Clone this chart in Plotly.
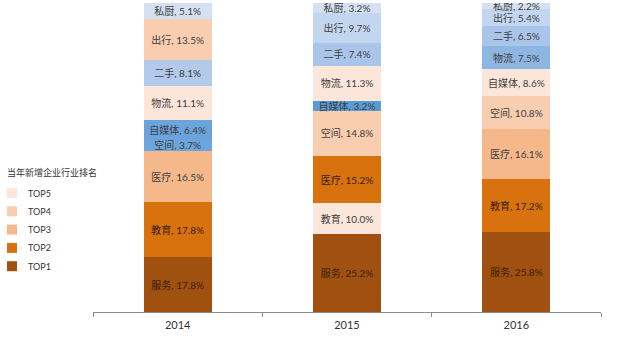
import plotly.graph_objects as go

years = ["2014", "2015", "2016"]

# bottom-to-top stacking order per year
cats_2014 = ["服务", "教育", "医疗", "空间", "自媒体", "物流", "二手", "出行", "私厨"]
vals_2014 = [17.8, 17.8, 16.5, 3.7, 6.4, 11.1, 8.1, 13.5, 5.1]

cats_2015 = ["服务", "教育", "医疗", "空间", "自媒体", "物流", "二手", "出行", "私厨"]
vals_2015 = [25.2, 10.0, 15.2, 14.8, 3.2, 11.3, 7.4, 9.7, 3.2]

cats_2016 = ["服务", "教育", "医疗", "空间", "自媒体", "物流", "二手", "出行", "私厨"]
vals_2016 = [25.8, 17.2, 16.1, 10.8, 8.6, 7.5, 6.5, 5.4, 2.2]

legend_title = "当年新增企业行业排名"
legend_names = ["TOP5", "TOP4", "TOP3", "TOP2", "TOP1"]

# styles
TOP = ["#A0510F", "#D8720F", "#F4B88B", "#F9CDB0", "#FCE6DA"]
colors_2014 = [TOP[0], TOP[1], TOP[2], "#6CA6DD", "#6AA4DC", TOP[4], "#B3CAEB", TOP[3], "#D5E1F2"]
colors_2015 = [TOP[0], TOP[4], TOP[1], TOP[3], "#5B9BD5", TOP[4], "#A9C5EA", "#C3D6EF", "#D5E1F2"]
colors_2016 = [TOP[0], TOP[1], TOP[2], TOP[3], TOP[4], "#8EB6E3", "#A9C5EA", "#C3D6EF", "#D5E1F2"]
legend_colors = [TOP[4], TOP[3], TOP[2], TOP[1], TOP[0]]

cats = [cats_2014, cats_2015, cats_2016]
vals = [vals_2014, vals_2015, vals_2016]
cols = [colors_2014, colors_2015, colors_2016]

DARK = {TOP[0], TOP[1]}
FONT = "Lato, 'Noto Sans CJK SC', sans-serif"

# plot-area geometry in pixels (for the hand-drawn legend)
L, R, T, B = 93, 601, 3, 312
W, H = R - L, B - T


def px(x):
    return (x - L) / W


def py(y):
    return (B - y) / H


fig = go.Figure()
for i in range(len(cats_2014)):
    ys = [vals[k][i] for k in range(3)]
    txt = [f"{cats[k][i]}, {vals[k][i]:.1f}%" for k in range(3)]
    mc = [cols[k][i] for k in range(3)]
    tc = ["#3A1C05" if c in DARK else "#404040" for c in mc]
    fig.add_trace(go.Bar(
        x=years, y=ys, text=txt, marker=dict(color=mc, line=dict(width=0)),
        textposition="inside", insidetextanchor="middle", textangle=0,
        textfont=dict(size=10, color=tc, family=FONT),
        showlegend=False, hoverinfo="skip",
    ))

# legend (title + swatches)
fig.add_annotation(
    text=legend_title, xref="paper", yref="paper",
    x=px(5), y=py(172), xanchor="left", yanchor="middle",
    showarrow=False, font=dict(size=9, color="#333333", family=FONT),
)
legend_y0, legend_dy = 193, 18.3
for j, (name, c) in enumerate(zip(legend_names, legend_colors)):
    yc = legend_y0 + j * legend_dy
    fig.add_shape(type="rect", xref="paper", yref="paper",
                  x0=px(7), x1=px(17), y0=py(yc + 5), y1=py(yc - 5),
                  fillcolor=c, line=dict(width=0))
    fig.add_annotation(text=name, xref="paper", yref="paper",
                       x=px(26), y=py(yc), xanchor="left", yanchor="middle",
                       showarrow=False,
                       font=dict(size=9, color="#333333", family=FONT))

fig.update_layout(
    barmode="stack",
    bargap=0.6,
    width=617, height=339,
    margin=dict(l=L, r=617 - R, t=T, b=339 - B),
    plot_bgcolor="white", paper_bgcolor="white",
    font=dict(family=FONT, color="#333333"),
    uniformtext=dict(mode="show", minsize=10),
    showlegend=False,
    xaxis=dict(
        type="category", range=[-0.5, 2.5],
        showline=True, linecolor="#8C8C8C", linewidth=1,
        ticks="outside", tickson="boundaries", ticklen=4, tickcolor="#8C8C8C",
        tickfont=dict(size=11, color="#333333"),
        ticklabelstandoff=3,
        showgrid=False,
    ),
    yaxis=dict(range=[0, 100], visible=False, showgrid=False),
)

fig.write_html("out.html")
